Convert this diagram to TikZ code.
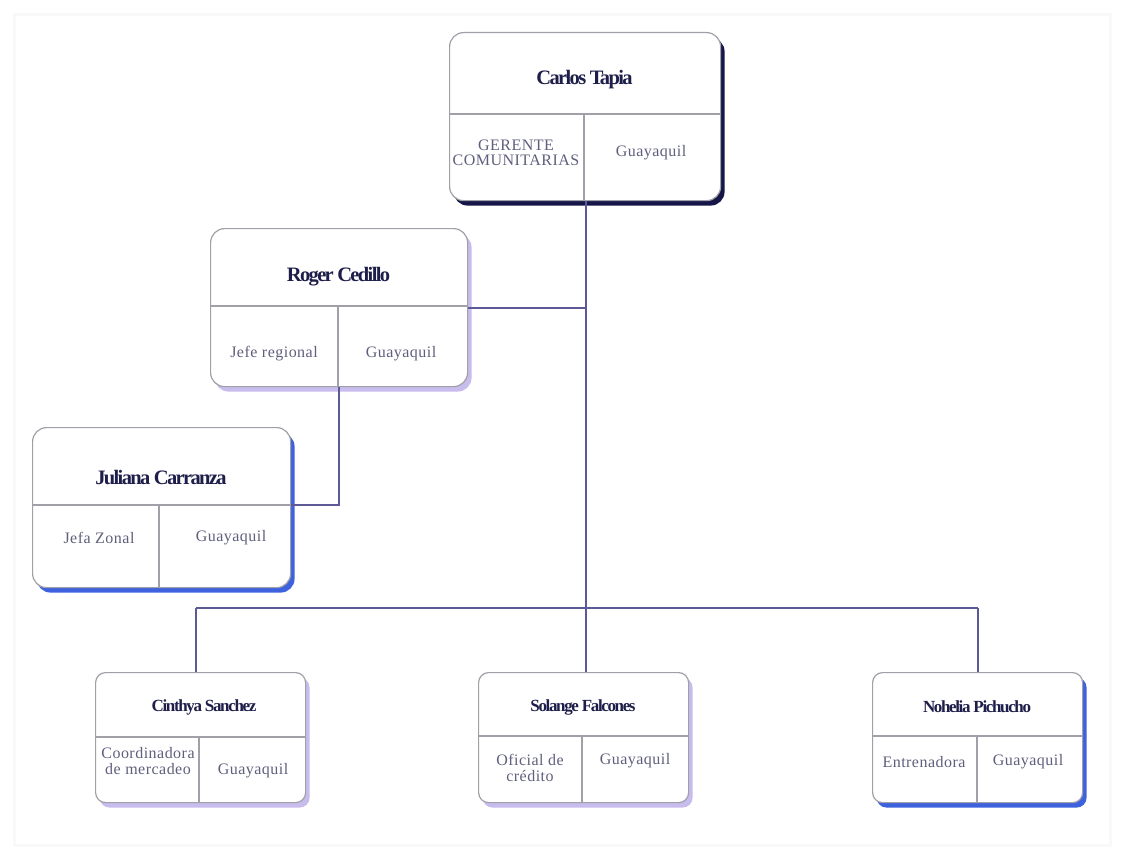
\documentclass[tikz,border=0pt]{standalone}
\usepackage{fontspec}
\setmainfont{Liberation Serif}
\usetikzlibrary{shadows}
\definecolor{navyshadow}{RGB}{22,22,72}
\definecolor{lavshadow}{RGB}{200,188,236}
\definecolor{blueshadow}{RGB}{62,98,222}
\definecolor{boxline}{RGB}{160,160,168}
\definecolor{conncol}{RGB}{92,90,150}
\definecolor{namecol}{RGB}{30,30,75}
\definecolor{subcol}{RGB}{95,95,125}
\tikzset{
  card/.style={draw=boxline, line width=1.2pt, fill=white, rounded corners=14pt, anchor=north west, inner sep=0pt},
  smallcard/.style={card, rounded corners=10pt},
  shnavy/.style={drop shadow={shadow xshift=4pt, shadow yshift=-5pt, fill=navyshadow, opacity=1}},
  shlav/.style={drop shadow={shadow xshift=4pt, shadow yshift=-5pt, fill=lavshadow, opacity=1}},
  shblue/.style={drop shadow={shadow xshift=4pt, shadow yshift=-5pt, fill=blueshadow, opacity=1}},
  divider/.style={draw=boxline, line width=1.1pt},
  conn/.style={draw=conncol, line width=1.4pt},
  bigname/.style={font=\fontsize{20.5}{22}\selectfont\bfseries\addfontfeature{LetterSpace=-8}, text=namecol},
  smallname/.style={font=\fontsize{17}{19}\selectfont\bfseries\addfontfeature{LetterSpace=-8}, text=namecol},
  subtext/.style={font=\fontsize{16}{15.5}\selectfont\addfontfeature{LetterSpace=3}, text=subcol, align=center},
}
\begin{document}
\begin{tikzpicture}[x=1pt,y=-1pt]
\useasboundingbox (0,0) rectangle (1123,856);
\draw[gray!5, line width=3pt] (14,15) rectangle (1110,845);

% Carlos Tapia
\node[card, shnavy, minimum width=271pt, minimum height=168pt] (carlos) at (449,32) {};
\draw[divider] (449,114) -- (720,114);
\draw[divider] (584,114) -- (584,200);
\node[bigname] (carlosname) at (584.5,80) {Carlos Tapia};
\node[subtext] (carlosrole) at (516,153) {GERENTE\\COMUNITARIAS};
\node[subtext] (carloscity) at (651,153) {Guayaquil};

% Roger Cedillo
\node[card, shlav, minimum width=257pt, minimum height=158pt] (roger) at (210,228) {};
\draw[divider] (210,306) -- (467,306);
\draw[divider] (338,306) -- (338,386);
\node[bigname] (rogername) at (338.5,277) {Roger Cedillo};
\node[subtext] (rogerrole) at (274,354) {Jefe regional};
\node[subtext] (rogercity) at (401,354) {Guayaquil};

% Juliana Carranza
\node[card, shblue, minimum width=258pt, minimum height=160pt] (juliana) at (32,427) {};
\draw[divider] (32,505) -- (290,505);
\draw[divider] (159,505) -- (159,587);
\node[bigname] (juliananame) at (161,478) {Juliana Carranza};
\node[subtext] (julianarole) at (99,538) {Jefa Zonal};
\node[subtext] (julianacity) at (231,538) {Guayaquil};

% Cinthya Sanchez
\node[smallcard, shlav, minimum width=210pt, minimum height=130pt] (cinthya) at (95,672) {};
\draw[divider] (95,737) -- (305,737);
\draw[divider] (199,737) -- (199,802);
\node[smallname] (cinthyaname) at (204,707) {Cinthya Sanchez};
\node[subtext] (cinthyarole) at (148,761) {Coordinadora\\de mercadeo};
\node[subtext] (cinthyacity) at (253,771) {Guayaquil};

% Solange Falcones
\node[smallcard, shlav, minimum width=210pt, minimum height=130pt] (solange) at (478,672) {};
\draw[divider] (478,736) -- (688,736);
\draw[divider] (582,736) -- (582,802);
\node[smallname] (solangename) at (583,707) {Solange Falcones};
\node[subtext] (solangerole) at (530,768) {Oficial de\\crédito};
\node[subtext] (solangecity) at (635,761) {Guayaquil};

% Nohelia Pichucho
\node[smallcard, shblue, minimum width=210pt, minimum height=130pt] (nohelia) at (872,672) {};
\draw[divider] (872,736) -- (1082,736);
\draw[divider] (977,736) -- (977,802);
\node[smallname] (noheliananame) at (977,707) {Nohelia Pichucho};
\node[subtext] (noheliarole) at (924,762) {Entrenadora};
\node[subtext] (noheliacity) at (1028,762) {Guayaquil};

% connectors
\coordinate (hubroger) at (586,308);
\coordinate (hubbottom) at (586,608);
\coordinate (leftbar) at (196,608);
\coordinate (rightbar) at (978,608);
\coordinate (julbend) at (339,505);
\draw[conn] (carlos.south -| hubbottom) -- (hubbottom);
\draw[conn] (roger.east |- hubroger) -- (hubroger);
\draw[conn] (roger.south -| julbend) -- (julbend) -- (juliana.east |- julbend);
\draw[conn] (leftbar) -- (rightbar);
\draw[conn] (leftbar) -- (leftbar |- cinthya.north);
\draw[conn] (hubbottom) -- (hubbottom |- solange.north);
\draw[conn] (rightbar) -- (rightbar |- nohelia.north);
\end{tikzpicture}
\end{document}
